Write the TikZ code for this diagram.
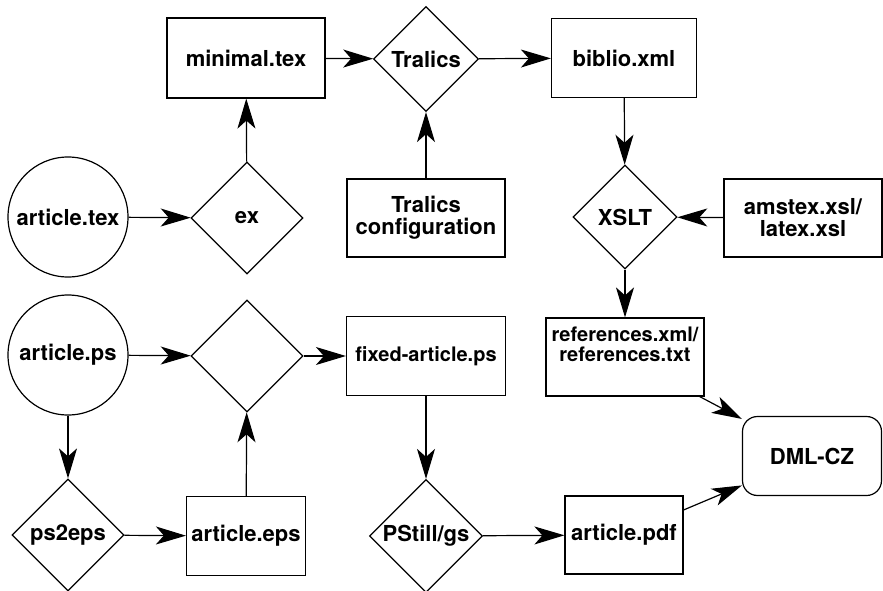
\documentclass[tikz,border=0pt]{standalone}
\usepackage{fontspec}
\setmainfont{TeX Gyre Heros}
\usepackage{tikz}
\usetikzlibrary{shapes.geometric,arrows.meta}
\tikzset{
  >={Stealth[length=30pt, width=18pt, inset=8pt]},
  flowline/.style={draw=black, line width=1.2pt, ->},
  lab/.style={font=\bfseries\fontsize{22}{22}\selectfont},
  smalllab/.style={font=\bfseries\fontsize{20}{20}\selectfont},
  filebox/.style={draw, line width=1.2pt, rectangle, inner sep=0pt, align=center, lab},
  tool/.style={draw, line width=1.2pt, diamond, aspect=1, inner sep=0pt, align=center, lab},
  src/.style={draw, line width=1.2pt, circle, minimum size=120pt, inner sep=0pt, lab},
  target/.style={filebox, rounded corners=15pt},
}

\begin{document}
\begin{tikzpicture}[x=1pt, y=-1pt]
  \useasboundingbox (0,0) rectangle (883,591);

  % bibliography branch
  \node[src] (artex) at (68,217) {article.tex};
  \node[tool, minimum size=112pt] (ex) at (247,218) {ex};
  \node[filebox, minimum width=158pt, minimum height=80pt] (minimal) at (246,58) {minimal.tex};
  \node[tool, minimum size=105pt] (tralics) at (426,59) {Tralics};
  \node[filebox, minimum width=158pt, minimum height=78pt] (tconf) at (426,218) {Tralics\\configuration};
  \node[filebox, minimum width=145pt, minimum height=79pt] (biblio) at (624,58) {biblio.xml};
  \node[tool, minimum size=104pt] (xslt) at (625,217) {XSLT};
  \node[filebox, minimum width=158pt, minimum height=78pt] (xsl) at (803,218) {amstex.xsl/\\latex.xsl};
  \node[filebox, smalllab, minimum width=158pt, minimum height=78pt] (refs) at (625,357) {references.xml/\\references.txt\\[6pt]};

  % postscript branch
  \node[src] (arps) at (68,355) {article.ps};
  \node[tool, minimum size=112pt] (fix) at (247,356) {};
  \node[filebox, smalllab, minimum width=159pt, minimum height=79pt] (fixed) at (426,356) {fixed-article.ps};
  \node[tool, minimum size=112pt] (ps2eps) at (68,535) {ps2eps};
  \node[filebox, minimum width=119pt, minimum height=79pt] (areps) at (246,536) {article.eps};
  \node[tool, minimum size=113pt] (pstill) at (426,536) {PStill/gs};
  \node[filebox, minimum width=118pt, minimum height=78pt] (arpdf) at (624,535) {article.pdf};

  \node[target, minimum width=139pt, minimum height=79pt] (dml) at (812,456) {DML-CZ};

  % connectors
  \draw[flowline] (artex) -- (ex);
  \draw[flowline] (ex) -- (minimal);
  \draw[flowline] (minimal) -- (tralics);
  \draw[flowline] (tconf) -- (tralics);
  \draw[flowline] (tralics) -- (biblio);
  \draw[flowline] (biblio) -- (xslt);
  \draw[flowline] (xsl) -- (xslt);
  \draw[flowline] (xslt) -- (refs);
  \draw[flowline] (refs) -- (dml);

  \draw[flowline] (arps) -- (fix);
  \draw[flowline] (arps) -- (ps2eps);
  \draw[flowline] (ps2eps) -- (areps);
  \draw[flowline] (areps) -- (fix);
  \draw[flowline] (fix) -- (fixed);
  \draw[flowline] (fixed) -- (pstill);
  \draw[flowline] (pstill) -- (arpdf);
  \draw[flowline] (arpdf) -- (dml);
\end{tikzpicture}
\end{document}
